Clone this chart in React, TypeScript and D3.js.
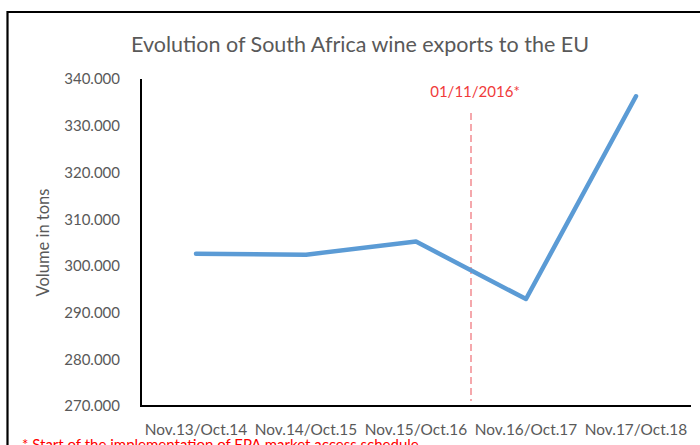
import React from "react";
import * as d3 from "d3";

const categories = ["Nov.13/Oct.14", "Nov.14/Oct.15", "Nov.15/Oct.16", "Nov.16/Oct.17", "Nov.17/Oct.18"];
const exportsTons = [302600, 302400, 305200, 292900, 336300];
const yTicks = [270000, 280000, 290000, 300000, 310000, 320000, 330000, 340000];
const markerLabel = "01/11/2016*";
const markerBetween = [2, 3];
const title = "Evolution of South Africa wine exports to the EU";
const yTitle = "Volume in tons";
const footnote = "* Start of the implementation of EPA market access schedule";

const W = 700;
const H = 445;
const FONT = "Lato, 'Open Sans', sans-serif";
const GRAY = "#595959";

export default function App() {
  const x = d3.scaleBand<string>().domain(categories).range([141, 691]);
  const cx = (c: string) => (x(c) as number) + x.bandwidth() / 2;
  const y = d3.scaleLinear().domain([270000, 340000]).range([406, 79]);
  const fmt = d3.formatLocale({ decimal: ",", thousands: ".", grouping: [3], currency: ["", ""] }).format(",.0f");

  const line = d3
    .line<number>()
    .x((_, i) => cx(categories[i]))
    .y((d) => y(d));

  const mx = (cx(categories[markerBetween[0]]) + cx(categories[markerBetween[1]])) / 2;

  return (
    <svg width={W} height={H} style={{ position: "absolute", left: 0, top: 0, background: "#fff" }} fontFamily={FONT}>
      <rect x={0} y={0} width={W} height={H} fill="#fff" />
      {/* outer frame */}
      <path d={`M7.5,${H + 5} V12 H${W + 5}`} fill="none" stroke="#000" strokeWidth={2.2} />
      <text x={360} y={52} textAnchor="middle" fontSize={21.5} fill={GRAY}>
        {title}
      </text>
      {/* y tick labels */}
      {yTicks.map((t) => (
        <text key={t} x={120} y={y(t)} dy="0.36em" textAnchor="end" fontSize={15} fill={GRAY}>
          {fmt(t)}
        </text>
      ))}
      <text
        transform={`translate(49,${(y(270000) + y(340000)) / 2}) rotate(-90)`}
        textAnchor="middle"
        fontSize={16.5}
        fill={GRAY}
      >
        {yTitle}
      </text>
      {/* axes */}
      <line x1={141} x2={141} y1={y(340000)} y2={y(270000) + 1} stroke="#000" strokeWidth={2} />
      <line x1={140} x2={691} y1={y(270000)} y2={y(270000)} stroke="#000" strokeWidth={2} />
      {categories.map((c) => (
        <text key={c} x={cx(c)} y={435} textAnchor="middle" fontSize={15.4} fill={GRAY}>
          {c}
        </text>
      ))}
      {/* marker */}
      <line x1={mx} x2={mx} y1={113} y2={401} stroke="#f07a80" strokeWidth={1.3} strokeDasharray="7,4" />
      <text x={mx + 4} y={97} textAnchor="middle" fontSize={15} fill="#f03a3a">
        {markerLabel}
      </text>
      <path d={line(exportsTons) || ""} fill="none" stroke="#5B9BD5" strokeWidth={4.5} strokeLinecap="round" strokeLinejoin="round" />
      <text x={22} y={450} fontSize={15} fill="#ff0000">
        {footnote}
      </text>
    </svg>
  );
}
